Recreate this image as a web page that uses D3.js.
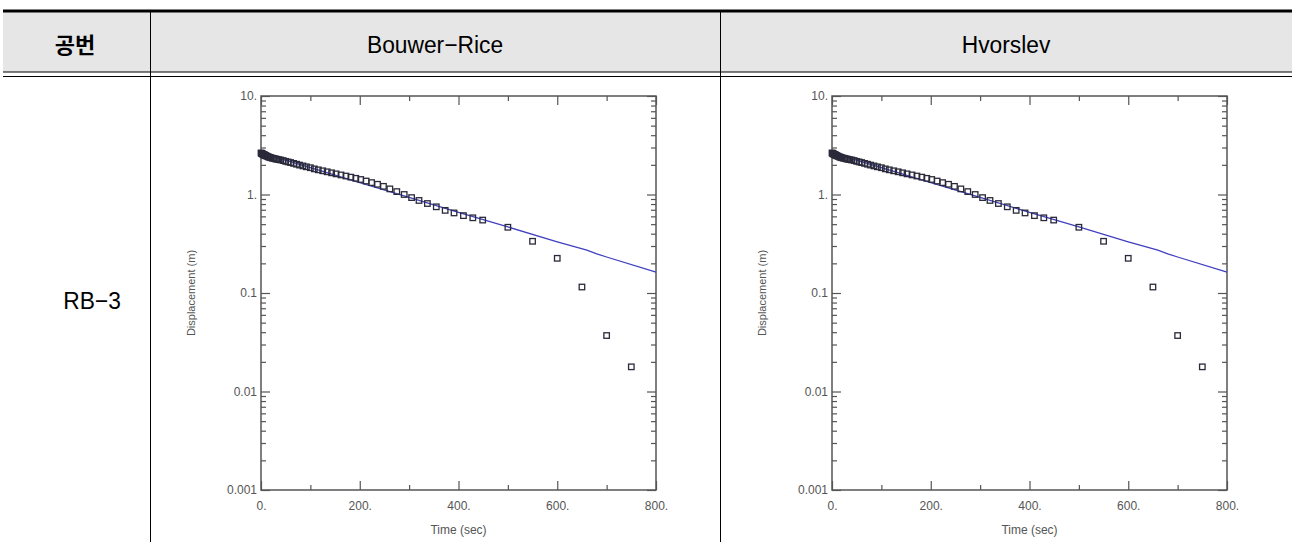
<!DOCTYPE html>
<html><head><meta charset="utf-8">
<script src="https://cdn.jsdelivr.net/npm/d3@7"></script>
<style>
html,body{margin:0;padding:0;background:#fff;}
svg{display:block;}
</style></head>
<body>
<svg id="c" width="1292" height="542"></svg>
<script>
// ---- data ----
const headers = ["공번", "Bouwer−Rice", "Hvorslev"];
const wellName = "RB−3";
const times = [0,1,2,3,4,5,6,7,8,9,10,12,14,16,18,20,23,26,29,32,36,40,45,50,55,60,66,72,78,85,92,100,108,116,125,134,143,152,162,172,182,192,202,213,224,236,248,261,275,290,305,320,337,355,373,391,410,429,449,500,550,600,650,700,750];
const displacement = [2.64,2.62,2.60,2.58,2.56,2.55,2.53,2.52,2.50,2.49,2.47,2.45,2.42,2.40,2.38,2.36,2.34,2.32,2.30,2.28,2.26,2.24,2.21,2.17,2.14,2.11,2.07,2.03,1.99,1.95,1.91,1.87,1.82,1.78,1.74,1.70,1.66,1.62,1.58,1.54,1.50,1.46,1.42,1.37,1.32,1.27,1.21,1.14,1.07,1.00,0.93,0.87,0.81,0.75,0.69,0.65,0.61,0.58,0.55,0.465,0.335,0.225,0.115,0.037,0.0178];
const fitTimes = [0,100,200,300,400,500,600,660,680,700,800];
const fitBouwerRice = [2.64,1.87,1.32,0.935,0.66,0.468,0.331,0.272,0.250,0.232,0.163];
const fitHvorslev = [2.64,1.87,1.32,0.935,0.66,0.468,0.331,0.272,0.250,0.232,0.163];
const xTicks = [0,200,400,600,800];
const xMinorTicks = [100,300,500,700];
const yTicks = [0.001,0.01,0.1,1,10];
const yTickLabels = ["0.001","0.01","0.1","1.","10."];
const xTickLabels = ["0.","200.","400.","600.","800."];
const xTitle = "Time (sec)";
const yTitle = "Displacement (m)";

const svg = d3.select("#c");

// ---- table ----
const colX = [0,150,720,1292];
svg.append("rect").attr("x",3).attr("y",12).attr("width",1289).attr("height",60).attr("fill","#e6e6e6");
svg.append("line").attr("x1",3).attr("x2",1292).attr("y1",11).attr("y2",11).attr("stroke","#000").attr("stroke-width",3);
svg.append("line").attr("x1",3).attr("x2",1292).attr("y1",72).attr("y2",72).attr("stroke","#000").attr("stroke-width",1.2);
svg.append("line").attr("x1",3).attr("x2",1292).attr("y1",76.5).attr("y2",76.5).attr("stroke","#000").attr("stroke-width",1.2);
[150,720].forEach(x=>{
  svg.append("line").attr("x1",x+0.5).attr("x2",x+0.5).attr("y1",12).attr("y2",542).attr("stroke","#000").attr("stroke-width",1);
});
headers.forEach((h,i)=>{
  const cx = (colX[i]+colX[i+1])/2;
  const sx = i===0 ? 1 : 0.95;
  svg.append("text").attr("transform",`translate(${cx},53) scale(${sx},1)`)
    .attr("text-anchor","middle")
    .attr("font-family", i===0 ? "'Noto Sans CJK KR'" : "'Liberation Sans', Arial")
    .attr("font-weight", i===0 ? "bold" : "normal")
    .attr("font-size", i===0 ? 22 : 24)
    .attr("fill","#000").text(h);
});
svg.append("text").attr("transform","translate(92,309) scale(0.95,1)").attr("text-anchor","middle")
  .attr("font-family","'Liberation Sans', Arial").attr("font-size",24).attr("fill","#000").text(wellName);

// ---- plots ----
function plot(x0, fitVals){
  const W = 395, top = 96, bottom = 490;
  const x = d3.scaleLinear().domain([0,800]).range([x0, x0+W]);
  const y = d3.scaleLog().domain([0.001,10]).range([bottom, top]);
  const g = svg.append("g");
  const minorY = [];
  for (let e=-3; e<1; e++) for (let k=2;k<=9;k++) minorY.push(k*Math.pow(10,e));
  const axStyle = sel => {
    sel.select(".domain").remove();
    sel.selectAll("line").attr("stroke","#555").attr("stroke-width",1.2);
    sel.selectAll("text").attr("fill","#555").attr("font-family","'Liberation Sans', Arial").attr("font-size",12);
  };
  // left
  g.append("g").attr("transform",`translate(${x0},0)`)
    .call(d3.axisLeft(y).tickValues(yTicks).tickSize(-9).tickPadding(4).tickFormat((d,i)=>yTickLabels[i])).call(axStyle);
  g.append("g").attr("transform",`translate(${x0},0)`)
    .call(d3.axisLeft(y).tickValues(minorY).tickSize(-5).tickFormat("")).call(axStyle);
  // right
  g.append("g").attr("transform",`translate(${x0+W},0)`)
    .call(d3.axisRight(y).tickValues(yTicks).tickSize(-9).tickFormat("")).call(axStyle);
  g.append("g").attr("transform",`translate(${x0+W},0)`)
    .call(d3.axisRight(y).tickValues(minorY).tickSize(-5).tickFormat("")).call(axStyle);
  // bottom
  g.append("g").attr("transform",`translate(0,${bottom})`)
    .call(d3.axisBottom(x).tickValues(xTicks).tickSize(-9).tickPadding(11).tickFormat((d,i)=>xTickLabels[i])).call(axStyle);
  g.append("g").attr("transform",`translate(0,${bottom})`)
    .call(d3.axisBottom(x).tickValues(xMinorTicks).tickSize(-5).tickFormat("")).call(axStyle);
  // top
  g.append("g").attr("transform",`translate(0,${top})`)
    .call(d3.axisTop(x).tickValues(xTicks).tickSize(-9).tickFormat("")).call(axStyle);
  g.append("g").attr("transform",`translate(0,${top})`)
    .call(d3.axisTop(x).tickValues(xMinorTicks).tickSize(-5).tickFormat("")).call(axStyle);
  // frame
  g.append("rect").attr("x",x0).attr("y",top).attr("width",W).attr("height",bottom-top)
    .attr("fill","none").attr("stroke","#555").attr("stroke-width",1.5);
  // fit line
  const fit = fitTimes.map((t,i)=>[t,fitVals[i]]);
  g.append("path").datum(fit)
    .attr("d", d3.line().x(d=>x(d[0])).y(d=>y(d[1])))
    .attr("fill","none").attr("stroke","#4040c0").attr("stroke-width",1.3);
  // points
  g.selectAll("rect.pt").data(times.map((t,i)=>[t,displacement[i]])).enter()
    .append("rect").attr("class","pt")
    .attr("x",d=>x(d[0])-2.75).attr("y",d=>y(d[1])-2.75).attr("width",5.5).attr("height",5.5)
    .attr("fill","none").attr("stroke","#2a2a3a").attr("stroke-width",1.3);
  // titles
  g.append("text").attr("x",(x0+x0+W)/2).attr("y",534).attr("text-anchor","middle")
    .attr("font-family","'Liberation Sans', Arial").attr("font-size",12).attr("fill","#555").text(xTitle);
  g.append("text").attr("transform",`translate(${x0-66},${(top+bottom)/2}) rotate(-90)`)
    .attr("text-anchor","middle")
    .attr("font-family","'Liberation Sans', Arial").attr("font-size",11).attr("fill","#555").text(yTitle);
}
plot(261, fitBouwerRice);
plot(832, fitHvorslev);
</script>
</body></html>
